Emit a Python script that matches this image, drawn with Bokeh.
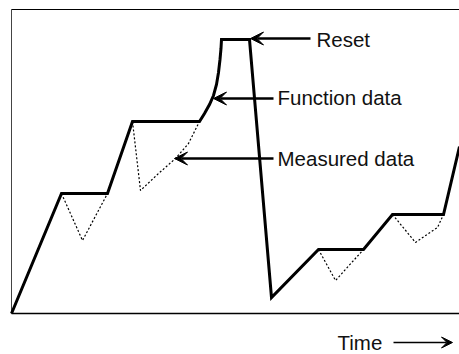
from bokeh.plotting import figure
from bokeh.models import Range1d, Label, Arrow, VeeHead
from bokeh.embed import file_html
from bokeh.resources import INLINE

# Domain of the signal box (time units, signal units)
t_start, t_end = 0, 448
v_min, v_max = 0, 304

# Function data (solid step/curve signal)
func_t = [0, 50, 96, 121, 188, 193, 198, 202, 205, 207, 208.5, 209.5, 210, 238, 260, 307, 352, 381, 432, 448]
func_y = [0, 120, 120, 192, 192, 200, 209, 218, 229, 241, 254, 265, 274, 274, 16, 64, 64, 99, 99, 167]

# Measured data (dotted dips between steps)
meas1_t = [50, 71, 96]
meas1_y = [120, 73, 120]
meas2_t = [121, 129, 147, 164, 177, 188]
meas2_y = [192, 123, 140, 155, 170, 192]
meas3_t = [307, 324, 352]
meas3_y = [64, 33, 64]
meas4_t = [381, 404, 417, 426, 432]
meas4_y = [99, 71, 80, 86, 99]

# Annotation labels
labels = ["Reset", "Function data", "Measured data"]
label_x = [305, 266, 266]
label_y = [274, 216, 155]
arrow_start_x = [299, 262, 262]
arrow_end_x = [239, 202, 163]
arrow_y = [275, 215, 155]

time_label = "Time"
FONT = "Liberation Sans"

p = figure(width=459, height=354, output_backend="svg", toolbar_location=None,
           x_range=Range1d(-11, 448), y_range=Range1d(-41, 313),
           x_axis_type=None, y_axis_type=None,
           min_border_left=0, min_border_top=0, min_border_right=0, min_border_bottom=0)
p.grid.visible = False
p.outline_line_color = None
p.background_fill_color = "white"
p.border_fill_color = "white"

# box lines (left, top, bottom)
p.line([t_start, t_start], [v_min, v_max], line_color="#444444", line_width=1)
p.line([t_start, t_end], [v_max, v_max], line_color="black", line_width=1)
p.line([t_start, t_end], [v_min, v_min], line_color="black", line_width=1.5)

p.multi_line(xs=[meas1_t, meas2_t, meas3_t, meas4_t], ys=[meas1_y, meas2_y, meas3_y, meas4_y],
             line_color="black", line_width=1.2, line_dash="2 2")
p.line(func_t, func_y, line_color="black", line_width=3, line_join="miter")

for txt, lx, ly, xs, xe, ay in zip(labels, label_x, label_y, arrow_start_x, arrow_end_x, arrow_y):
    p.add_layout(Arrow(end=VeeHead(size=13, fill_color="black", line_color="black"),
                       x_start=xs, y_start=ay, x_end=xe, y_end=ay,
                       line_color="black", line_width=2.5))
    p.add_layout(Label(x=lx, y=ly, text=txt, text_font=FONT, text_font_size="20.5px",
                       text_baseline="alphabetic", text_color="#111111"))

p.add_layout(Label(x=326, y=-29, text=time_label, text_font=FONT, text_font_size="20.5px",
                   text_baseline="alphabetic", text_color="#111111"))
p.add_layout(Arrow(end=VeeHead(size=11, fill_color="black", line_color="black"),
                   x_start=382, y_start=-29, x_end=441, y_end=-29,
                   line_color="black", line_width=1.5))

open("out.html", "w").write(file_html(p, INLINE))
